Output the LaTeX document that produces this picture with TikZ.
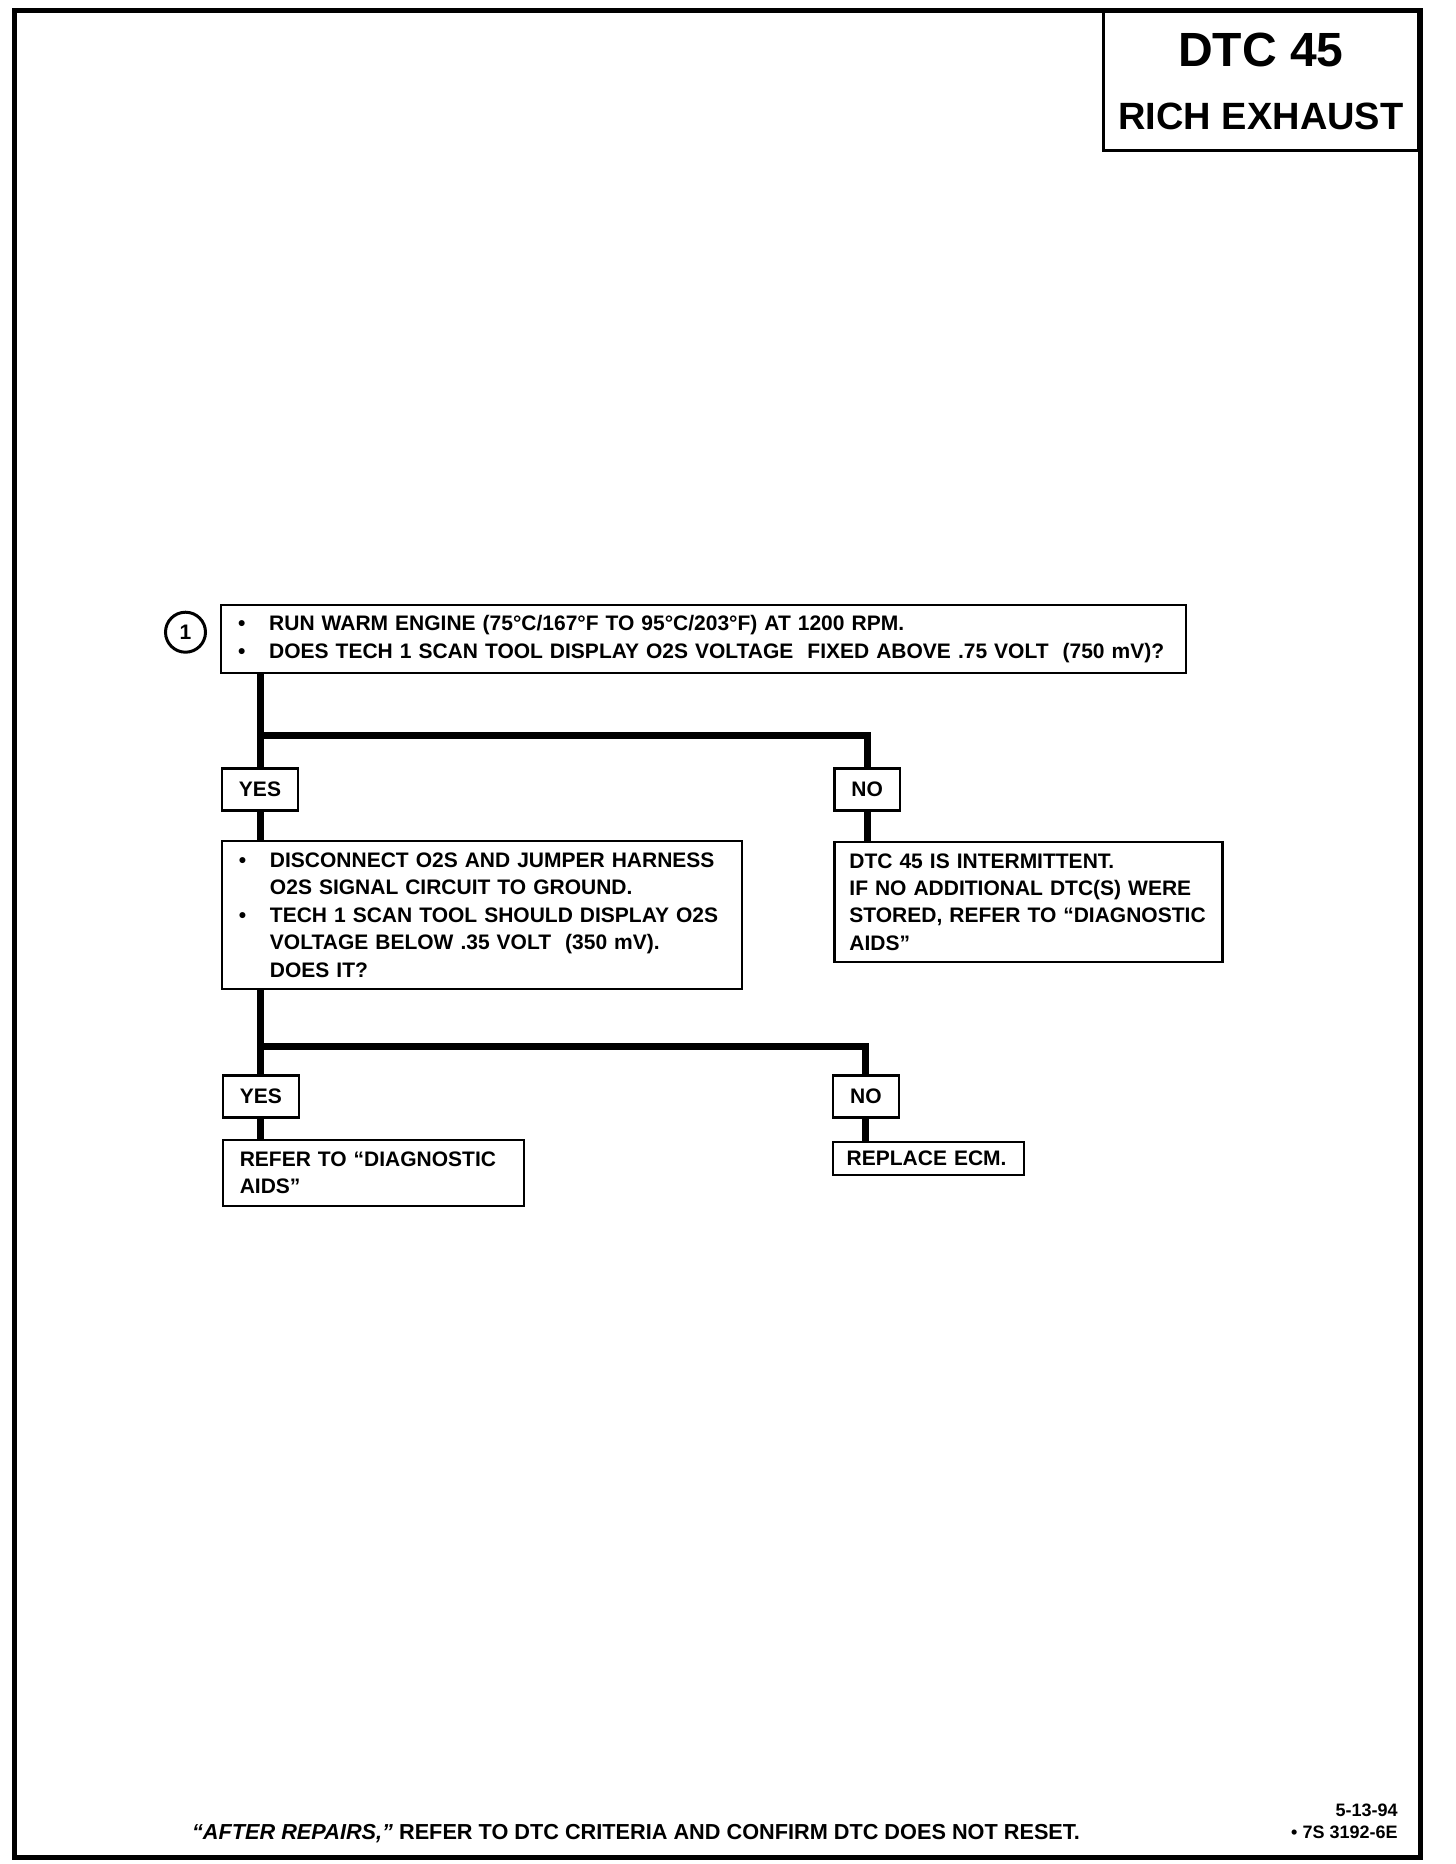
\documentclass[tikz,border=0pt]{standalone}
\usepackage{fontspec}
\setmainfont{Liberation Sans}
\usetikzlibrary{positioning,calc}

\newcommand{\bul}{\makebox[15.5pt][l]{\textbullet}}
\newcommand{\ind}{\hspace*{15.5pt}}

\begin{document}
\begin{tikzpicture}[
    x=0.5pt, y=-0.5pt,
    stepbox/.style={rectangle, draw, line width=1.2pt, anchor=north west,
                    align=left, inner xsep=8.5pt, inner ysep=0pt,
                    font=\bfseries\fontsize{10.5}{13.7}\selectfont},
    answer/.style={rectangle, draw, line width=1.2pt, inner xsep=8.5pt,
                   minimum height=21pt, font=\bfseries\fontsize{10.5}{12}\selectfont},
    conn/.style={line width=3.5pt},
]
\useasboundingbox (0,0) rectangle (1456,1864);

% Page frame and title
\draw[line width=2.5pt] (14,10) rectangle (1420,1857);
\node[draw, line width=1.5pt, anchor=north east, minimum width=157.5pt,
      minimum height=69.5pt, align=center, inner sep=0pt] (title) at (1420,10)
    {\fontsize{24}{28}\selectfont\bfseries DTC 45\\[17pt]
     \fontsize{19}{22}\selectfont\bfseries RICH EXHAUST};

% Step 1
\node[stepbox, text width=465.5pt, minimum height=34pt] (step1) at (220,604)
    {\bul RUN WARM ENGINE (75°C/167°F TO 95°C/203°F) AT 1200 RPM.\\
     \bul DOES TECH 1 SCAN TOOL DISPLAY O2S VOLTAGE\ \ FIXED ABOVE .75 VOLT\ \ (750 mV)?};
\node[circle, draw, line width=1.5pt, minimum size=20pt, inner sep=0pt,
      font=\bfseries\fontsize{10.5}{12}\selectfont,
      left=6.5pt of step1.west, yshift=3.5pt] (num1) {1};

% First answers
\node[answer, below=46.5pt of step1.south west, xshift=20pt] (yes1) {YES};
\node[answer, right=267pt of yes1] (no1) {NO};

\node[stepbox, text width=243pt, minimum height=74pt,
      below=14pt of yes1.south west, anchor=north west] (step2)
    {\bul DISCONNECT O2S AND JUMPER HARNESS\\
     \ind O2S SIGNAL CIRCUIT TO GROUND.\\
     \bul TECH 1 SCAN TOOL SHOULD DISPLAY O2S\\
     \ind VOLTAGE BELOW .35 VOLT\ \ (350 mV).\\
     \ind DOES IT?};
\node[stepbox, text width=179pt, minimum height=60pt, inner xsep=7.5pt,
      below=14.5pt of no1.south west, anchor=north west] (interm)
    {DTC 45 IS INTERMITTENT.\\
     IF NO ADDITIONAL DTC(S) WERE\\
     STORED, REFER TO ``DIAGNOSTIC\\
     AIDS''};

% Second answers
\node[answer, below=42pt of step2.south west, xshift=20pt] (yes2) {YES};
\node[answer, right=266pt of yes2] (no2) {NO};

\node[stepbox, text width=133.5pt, minimum height=33pt,
      below=10pt of yes2.south west, anchor=north west] (aids)
    {REFER TO ``DIAGNOSTIC\\ AIDS''};
\node[stepbox, text width=82pt, minimum height=16.5pt, inner xsep=6.75pt,
      below=11pt of no2.south west, anchor=north west] (ecm)
    {REPLACE ECM.};

% Connectors
\coordinate (j1) at ([yshift=16pt]yes1.north);
\coordinate (j2) at ([yshift=14pt]yes2.north);
\draw[conn] (yes1.north |- step1.south) -- (yes1.north);
\draw[conn] (j1) -| (no1.north);
\draw[conn] (yes1.south) -- (yes1.south |- step2.north);
\draw[conn] (no1.south) -- (no1.south |- interm.north);
\draw[conn] (yes2.north |- step2.south) -- (yes2.north);
\draw[conn] (j2) -| (no2.north);
\draw[conn] (yes2.south) -- (yes2.south |- aids.north);
\draw[conn] (no2.south) -- (no2.south |- ecm.north);

% Footer
\node[font=\bfseries\fontsize{10.85}{12}\selectfont] (footer) at (636,1834)
    {\textit{``AFTER REPAIRS,''} REFER TO DTC CRITERIA AND CONFIRM DTC DOES NOT RESET.};
\node[anchor=east, align=right, inner sep=0pt,
      font=\bfseries\fontsize{9}{11}\selectfont] (docref) at (1398,1821)
    {5-13-94\\ \textbullet\ 7S 3192-6E};

\end{tikzpicture}
\end{document}
